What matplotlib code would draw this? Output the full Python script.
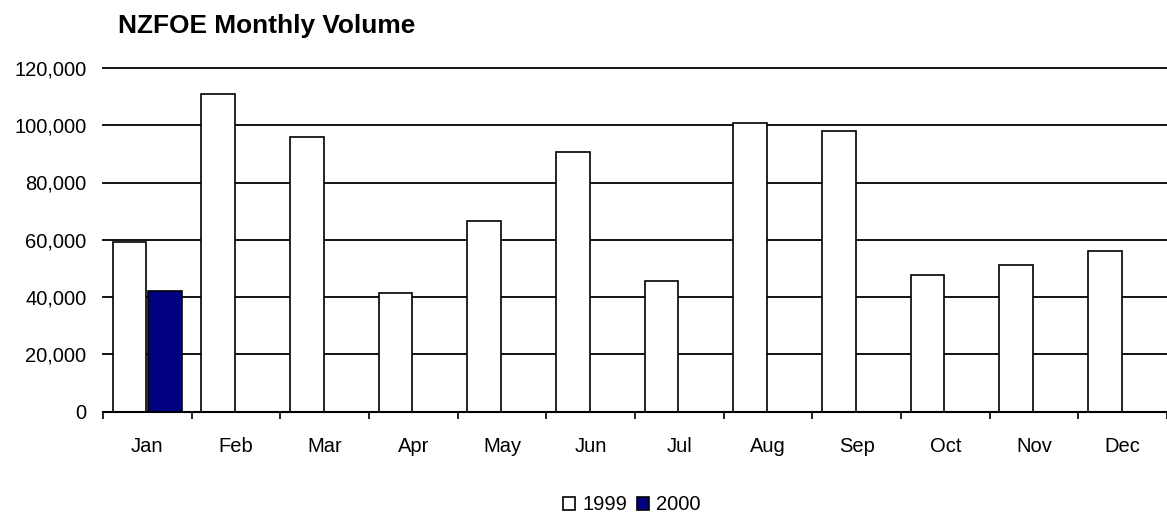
import numpy as np
import matplotlib.pyplot as plt

plt.rcParams['font.family'] = ['Liberation Sans', 'DejaVu Sans']

months = ["Jan", "Feb", "Mar", "Apr", "May", "Jun",
          "Jul", "Aug", "Sep", "Oct", "Nov", "Dec"]
vol_1999 = [59300, 111000, 96000, 41300, 66400, 90600,
            45600, 100700, 97900, 47600, 51100, 55900]
vol_2000 = [42000, np.nan, np.nan, np.nan, np.nan, np.nan,
            np.nan, np.nan, np.nan, np.nan, np.nan, np.nan]
series_names = ["1999", "2000"]
y_ticks = [0, 20000, 40000, 60000, 80000, 100000, 120000]

fig = plt.figure(figsize=(11.67, 5.15), dpi=100)
ax = fig.add_axes([103 / 1167, 1 - 411.5 / 515, 1 - 103 / 1167, (411.5 - 68) / 515])

x = np.arange(len(months))
w = 0.38
ax.bar(x - 0.2, vol_1999, width=w, color="white", edgecolor="black",
       linewidth=1.2, zorder=3, label=series_names[0])
ax.bar(x + 0.2, vol_2000, width=w, color="#000080", edgecolor="black",
       linewidth=1.2, zorder=3, label=series_names[1])

ax.set_xlim(-0.5, 11.5)
ax.set_ylim(0, 120000)
ax.set_yticks(y_ticks)
ax.set_yticklabels([f"{v:,}" for v in y_ticks])
ax.yaxis.grid(True, color="black", linewidth=1.3, zorder=0)
ax.set_axisbelow(True)
for gl in ax.get_ygridlines():
    gl.set_clip_on(False)  # keep the top line full width

# ticks sit on the category boundaries, labels in the middle
ax.set_xticks(np.arange(-0.5, 12, 1))
ax.set_xticklabels([])
ax.set_xticks(x, minor=True)
ax.set_xticklabels(months, minor=True)
ax.tick_params(axis="x", which="major", length=5, width=1.2, direction="out")
ax.tick_params(axis="x", which="minor", length=0, pad=18, labelsize=14.5)
ax.tick_params(axis="y", length=0, pad=12, labelsize=14.5)

for s in ["top", "right", "left"]:
    ax.spines[s].set_visible(False)
ax.spines["bottom"].set_linewidth(1.5)
ax.spines["bottom"].set_zorder(4)

fig.text(118 / 1167, 1 - 25.5 / 515, "NZFOE Monthly Volume", fontsize=18.9,
         fontweight="bold", ha="left", va="center")

fig.legend(loc="center", bbox_to_anchor=(632 / 1167, 1 - 505 / 515), ncol=2,
           frameon=False, fontsize=14.5, handlelength=0.6, handleheight=0.6,
           handletextpad=0.35, columnspacing=0.5, borderpad=0)

fig.savefig("out.png", dpi=100)
